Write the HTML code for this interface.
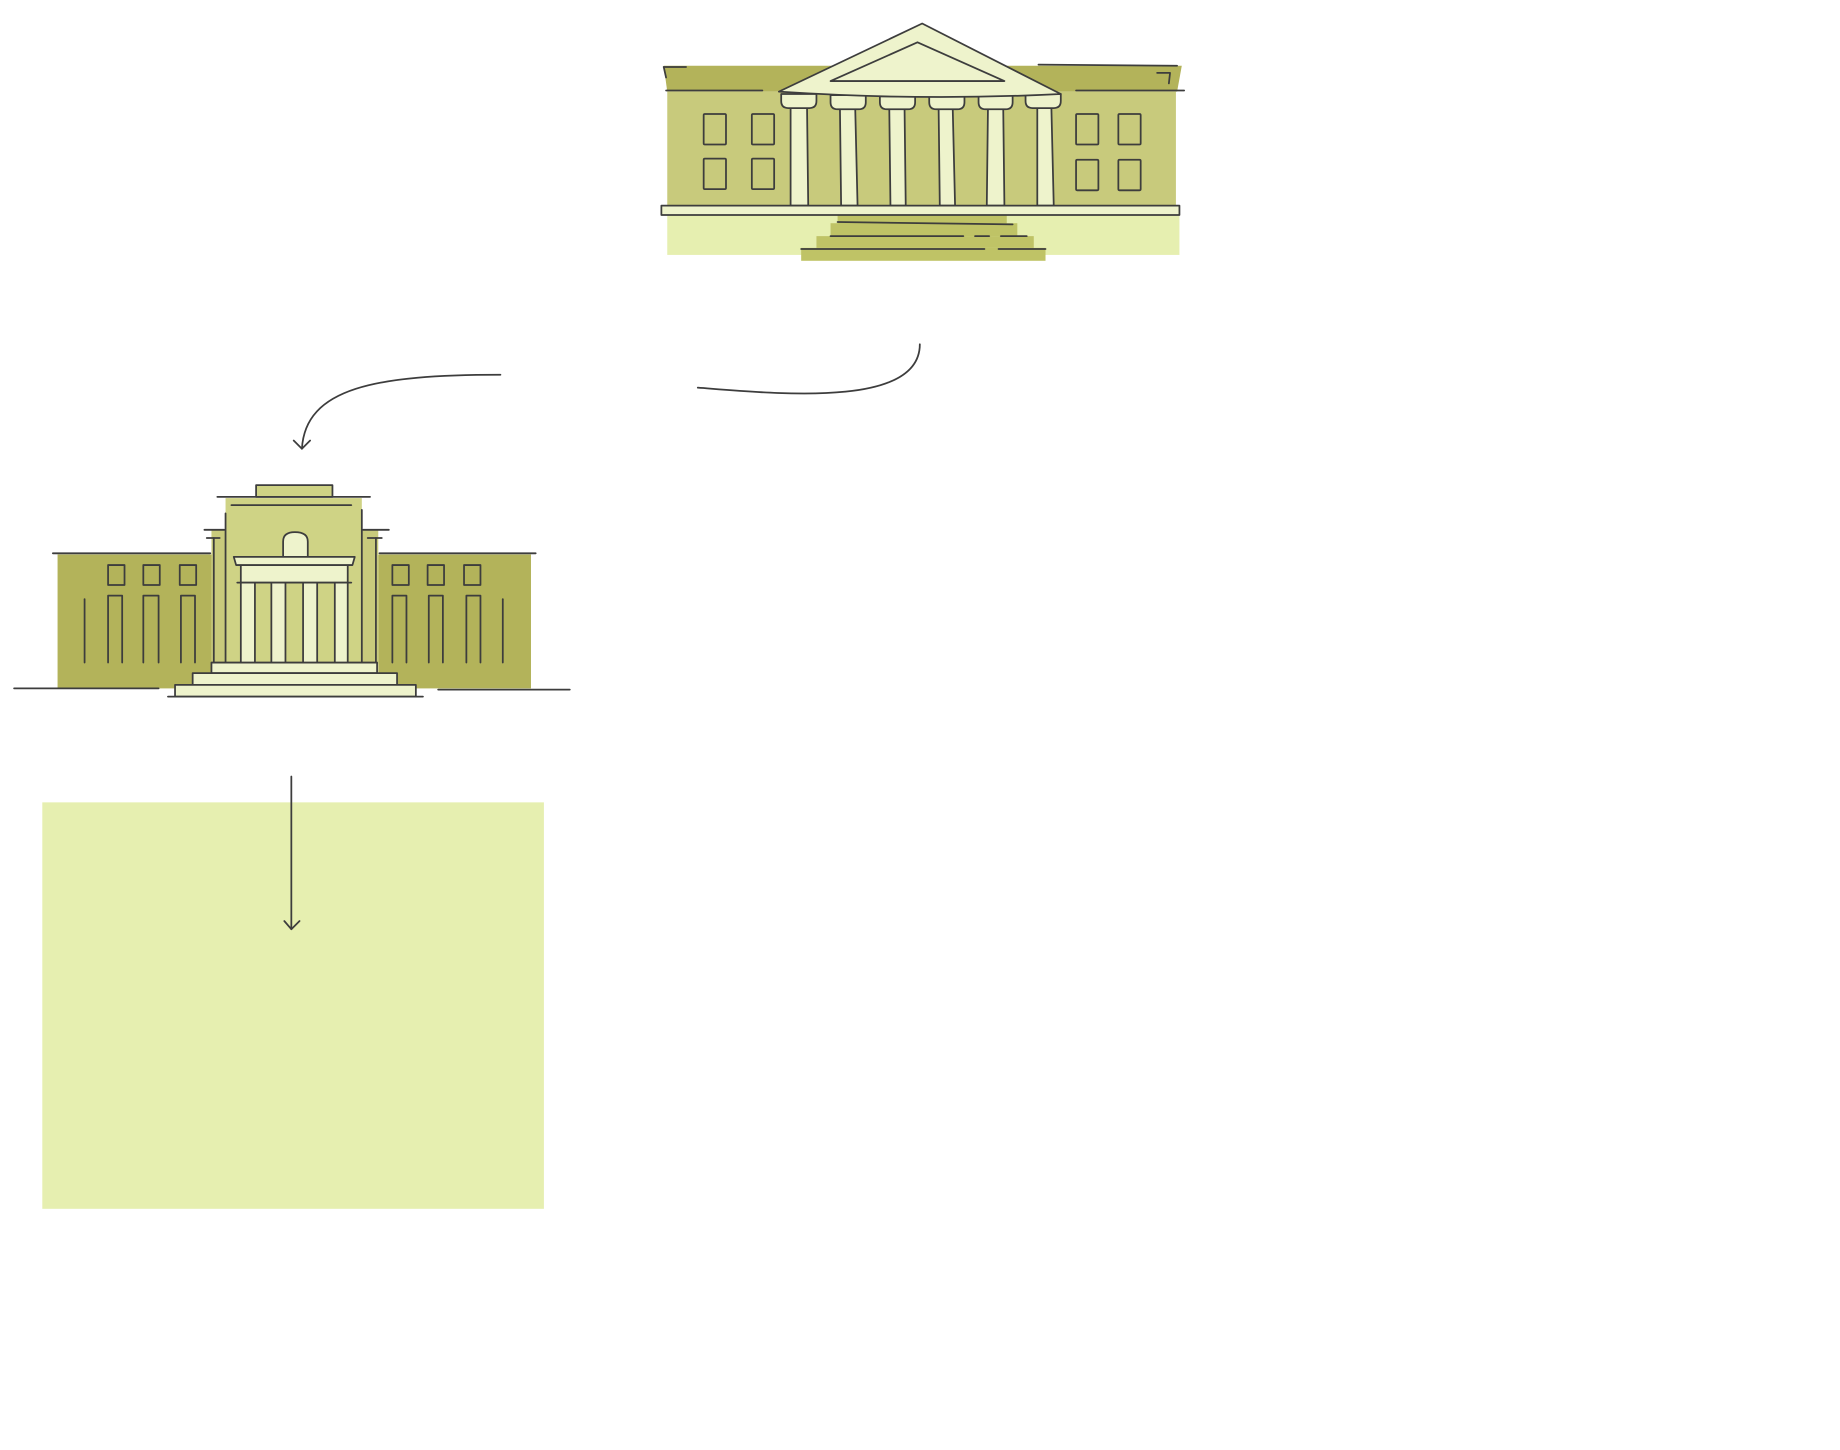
<!DOCTYPE html>
<html><head><meta charset="utf-8"><style>html,body{margin:0;padding:0;background:#fff}svg{display:block}</style></head>
<body>
<svg width="1840" height="1450" viewBox="0 0 1566.3 1234.3" xmlns="http://www.w3.org/2000/svg" fill="none" stroke="#3d3d3d" stroke-width="1.5" stroke-linecap="round" stroke-linejoin="round">
<!-- TOP BUILDING -->
<rect x="568" y="183" width="436" height="34" fill="#e6efb0" stroke="none"/>
<polygon points="565,56 1006,56 1002,78 568,78" fill="#b3b35a" stroke="none"/>
<rect x="568" y="78" width="433" height="97" fill="#c8ca7c" stroke="none"/>
<rect x="713" y="183" width="144" height="8" fill="#bfc366" stroke="none"/>
<rect x="707" y="190" width="159" height="11" fill="#bfc366" stroke="none"/>
<rect x="695" y="201" width="185" height="10" fill="#bfc366" stroke="none"/>
<rect x="682" y="211" width="208" height="11" fill="#bfc366" stroke="none"/>
<line x1="713" y1="189" x2="862" y2="191"/>
<line x1="707" y1="201" x2="820" y2="201"/><line x1="830" y1="201" x2="842" y2="201"/><line x1="852" y1="201" x2="874" y2="201"/>
<line x1="682" y1="212" x2="838" y2="212"/><line x1="850" y1="212" x2="890" y2="212"/>
<line x1="565" y1="57" x2="584" y2="57"/><line x1="565" y1="57" x2="567" y2="66"/>
<line x1="884" y1="55" x2="1002" y2="56"/>
<line x1="567" y1="77" x2="649" y2="77"/><line x1="916" y1="77" x2="1008" y2="77"/>
<polyline points="985,62 996,62 995,71"/>
<g>
<rect x="599" y="97" width="19" height="26" rx="1"/><rect x="640" y="97" width="19" height="26" rx="1"/>
<rect x="599" y="135" width="19" height="26" rx="1"/><rect x="640" y="135" width="19" height="26" rx="1"/>
<rect x="916" y="97" width="19" height="26" rx="1"/><rect x="952" y="97" width="19" height="26" rx="1"/>
<rect x="916" y="136" width="19" height="26" rx="1"/><rect x="952" y="136" width="19" height="26" rx="1"/>
</g>
<g fill="#eef3cc">
<path d="M673,92 L687,92 L688,175 L673,175 Z"/>
<path d="M715,92 L728,92 L730,175 L716,175 Z"/>
<path d="M757,92 L770,92 L771,175 L758,175 Z"/>
<path d="M799,92 L811,92 L813,175 L800,175 Z"/>
<path d="M841,92 L854,92 L855,175 L840,175 Z"/>
<path d="M883,92 L895,92 L897,175 L883,175 Z"/>
<path d="M665,80 L695,80 L695,86 Q695,92 689,92 L671,92 Q665,92 665,86 Z"/>
<path d="M707,81 L737,81 L737,87 Q737,93 731,93 L713,93 Q707,93 707,87 Z"/>
<path d="M749,82 L779,82 L779,87 Q779,93 773,93 L755,93 Q749,93 749,87 Z"/>
<path d="M791,82 L821,82 L821,87 Q821,93 815,93 L797,93 Q791,93 791,87 Z"/>
<path d="M833,81 L862,81 L862,87 Q862,93 856,93 L839,93 Q833,93 833,87 Z"/>
<path d="M873,80 L903,80 L903,86 Q903,92 897,92 L879,92 Q873,92 873,86 Z"/>
<path d="M785,20 L903,80 Q785,86 663,78 Z"/>
</g>
<path d="M781,36 L855,69 L707,69 Z" fill="#eef3cc"/>
<rect x="563" y="175" width="441" height="8" fill="#eef3cc"/>
<!-- CONNECTORS -->
<path d="M426,319 C320,319 260,330 257,382"/>
<polyline points="250,375 257,382 264,375"/>
<path d="M594,330 C660,335 783,348 783,293"/>
<!-- BOX -->
<rect x="36" y="683" width="427" height="346" fill="#e6efb0" stroke="none"/>
<line x1="248" y1="661" x2="248" y2="791"/>
<polyline points="242,784 248,791 255,784"/>
<!-- SECOND BUILDING -->
<rect x="49" y="472" width="131" height="114" fill="#b3b35a" stroke="none"/>
<rect x="322" y="472" width="130" height="114" fill="#b3b35a" stroke="none"/>
<rect x="180" y="451" width="142" height="114" fill="#c8ca7c" stroke="none"/>
<rect x="192" y="424" width="116" height="141" fill="#cfd385" stroke="none"/>
<rect x="218" y="413" width="65" height="10" fill="#cfd385"/>
<line x1="185" y1="423" x2="315" y2="423"/><line x1="197" y1="430" x2="299" y2="430"/>
<line x1="45" y1="471" x2="179" y2="471"/><line x1="323" y1="471" x2="456" y2="471"/>
<line x1="174" y1="451" x2="191" y2="451"/><line x1="309" y1="451" x2="331" y2="451"/>
<line x1="176" y1="458" x2="187" y2="458"/><line x1="313" y1="458" x2="325" y2="458"/>
<line x1="192" y1="437" x2="192" y2="565"/><line x1="308" y1="434" x2="308" y2="565"/>
<line x1="182" y1="458" x2="182" y2="565"/><line x1="320" y1="458" x2="320" y2="565"/>
<path d="M241,474 L241,461 Q241,453 251,453 Q262,453 262,461 L262,474 Z" fill="#eef3cc"/>
<rect x="205" y="496" width="91" height="69" fill="#eef3cc" stroke="none"/>
<g fill="#cfd385" stroke="none"><rect x="217" y="496" width="14" height="69"/><rect x="243" y="496" width="15" height="69"/><rect x="270" y="496" width="15" height="69"/></g>
<g><line x1="205" y1="496" x2="205" y2="565"/><line x1="217" y1="496" x2="217" y2="565"/><line x1="231" y1="496" x2="231" y2="565"/><line x1="243" y1="496" x2="243" y2="565"/><line x1="258" y1="496" x2="258" y2="565"/><line x1="270" y1="496" x2="270" y2="565"/><line x1="285" y1="496" x2="285" y2="565"/><line x1="296" y1="496" x2="296" y2="565"/></g>
<rect x="205" y="481" width="91" height="15" fill="#eef3cc"/>
<line x1="202" y1="496" x2="299" y2="496"/>
<path d="M199,474 L302,474 L300,481 L201,481 Z" fill="#eef3cc"/>
<g>
<rect x="92" y="481" width="14" height="17"/><rect x="122" y="481" width="14" height="17"/><rect x="153" y="481" width="14" height="17"/>
<rect x="334" y="481" width="14" height="17"/><rect x="364" y="481" width="14" height="17"/><rect x="395" y="481" width="14" height="17"/>
<path d="M92,564 L92,507 L104,507 L104,564"/><path d="M122,564 L122,507 L135,507 L135,564"/><path d="M154,564 L154,507 L166,507 L166,564"/>
<path d="M334,564 L334,507 L346,507 L346,564"/><path d="M365,564 L365,507 L377,507 L377,564"/><path d="M397,564 L397,507 L409,507 L409,564"/>
<line x1="72" y1="510" x2="72" y2="564"/><line x1="428" y1="510" x2="428" y2="564"/>
</g>
<rect x="180" y="564" width="141" height="9" fill="#eef3cc"/>
<rect x="164" y="573" width="174" height="10" fill="#eef3cc"/>
<rect x="149" y="583" width="205" height="10" fill="#eef3cc"/>
<line x1="12" y1="586" x2="135" y2="586"/><line x1="373" y1="587" x2="485" y2="587"/><line x1="143" y1="593" x2="360" y2="593"/>
</svg>
</body></html>
